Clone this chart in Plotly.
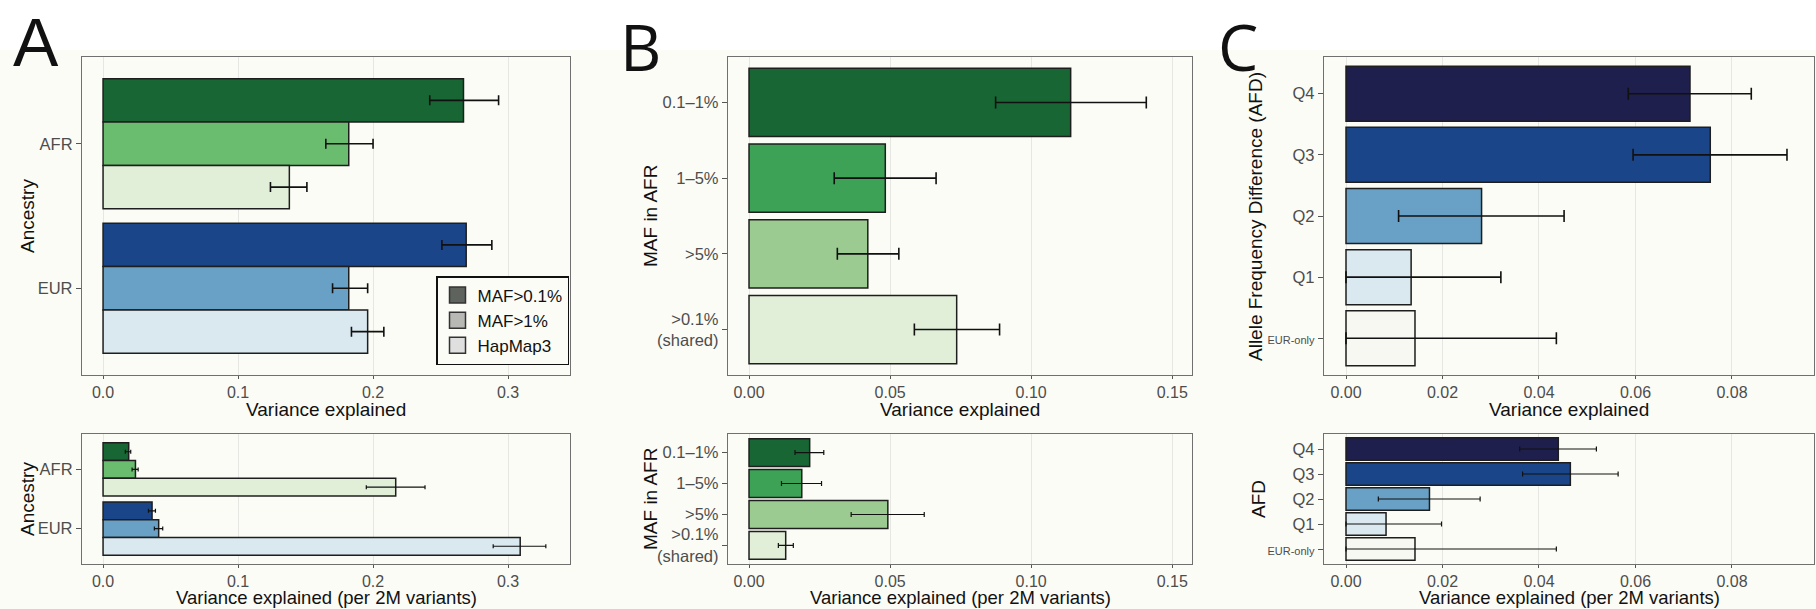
import plotly.graph_objects as go

W, H = 1816, 609

# ---------------- data ----------------
ANCESTRY = ["AFR", "EUR"]
SNP_SETS = ["MAF>0.1%", "MAF>1%", "HapMap3"]

# Panel A, top (variance explained)
A_TOP_MAF01 = [0.267, 0.269]
A_TOP_MAF01_LO = [0.242, 0.251]
A_TOP_MAF01_HI = [0.293, 0.288]
A_TOP_MAF1 = [0.182, 0.182]
A_TOP_MAF1_LO = [0.165, 0.170]
A_TOP_MAF1_HI = [0.200, 0.196]
A_TOP_HM3 = [0.138, 0.196]
A_TOP_HM3_LO = [0.124, 0.184]
A_TOP_HM3_HI = [0.151, 0.208]

# Panel A, bottom (per 2M variants)
A_BOT_MAF01 = [0.019, 0.0363]
A_BOT_MAF01_LO = [0.0165, 0.0336]
A_BOT_MAF01_HI = [0.0205, 0.0388]
A_BOT_MAF1 = [0.024, 0.0412]
A_BOT_MAF1_LO = [0.0215, 0.038]
A_BOT_MAF1_HI = [0.026, 0.0442]
A_BOT_HM3 = [0.2168, 0.309]
A_BOT_HM3_LO = [0.195, 0.289]
A_BOT_HM3_HI = [0.2385, 0.328]

# Panel B
MAF_BINS = ["0.1–1%", "1–5%", ">5%", ">0.1%<br>(shared)"]
B_TOP = [0.114, 0.0483, 0.0421, 0.0736]
B_TOP_LO = [0.0874, 0.0302, 0.0313, 0.0586]
B_TOP_HI = [0.1408, 0.0663, 0.0531, 0.0888]
B_BOT = [0.0215, 0.0187, 0.0492, 0.013]
B_BOT_LO = [0.0163, 0.0115, 0.0362, 0.0104]
B_BOT_HI = [0.0265, 0.0257, 0.0621, 0.0157]

# Panel C
AFD_BINS = ["Q4", "Q3", "Q2", "Q1", "EUR-only"]
AFD_TICKTEXT = ["Q4", "Q3", "Q2", "Q1", "<span style='font-size:11px'>EUR-only</span>"]
C_TOP = [0.0713, 0.0755, 0.0281, 0.0135, 0.0143]
C_TOP_LO = [0.0585, 0.0595, 0.0109, 0.0, 0.0]
C_TOP_HI = [0.0840, 0.0914, 0.0452, 0.0321, 0.0436]
C_BOT = [0.0440, 0.0465, 0.0173, 0.0083, 0.0143]
C_BOT_LO = [0.0360, 0.0366, 0.0067, 0.0, 0.0]
C_BOT_HI = [0.0519, 0.0564, 0.0278, 0.0198, 0.0436]

# ---------------- styles ----------------
CREAM = "#fcfcf6"
GREENS_A = ["#176634", "#6abd6e", "#e1eed8"]
BLUES_A = ["#1a4689", "#68a0c6", "#dae8f0"]
GREENS_B = ["#176634", "#3da156", "#9ccb91", "#e1eed8"]
BLUES_C = ["#1e1f4c", "#1a4689", "#68a0c6", "#dae8f0", "#f8f8f2"]
LEGEND_GRAYS = ["#5e635d", "#b8b9b4", "#dfdfdf"]
EDGE = "#1e1e1e"
FONT = "Liberation Sans, Arial, sans-serif"

fig = go.Figure()


def px_x(v):
    return v / W


def px_y(v):
    return 1 - v / H


def err(vals, lo, hi, cap, thick):
    return dict(type="data", symmetric=False,
                array=[h - v for v, h in zip(vals, hi)],
                arrayminus=[v - l for v, l in zip(vals, lo)],
                color="#111111", thickness=thick, width=cap)


def add_bar(vals, lo, hi, cats, colors, xa, ya, cap, thick, name=""):
    fig.add_trace(go.Bar(
        x=vals, y=cats, orientation="h", name=name, showlegend=False,
        marker=dict(color=colors, line=dict(color=EDGE, width=1.5)),
        error_x=err(vals, lo, hi, cap, thick),
        xaxis=xa, yaxis=ya))


# Panel A (grouped)
a_top = [(A_TOP_MAF01, A_TOP_MAF01_LO, A_TOP_MAF01_HI),
         (A_TOP_MAF1, A_TOP_MAF1_LO, A_TOP_MAF1_HI),
         (A_TOP_HM3, A_TOP_HM3_LO, A_TOP_HM3_HI)]
a_bot = [(A_BOT_MAF01, A_BOT_MAF01_LO, A_BOT_MAF01_HI),
         (A_BOT_MAF1, A_BOT_MAF1_LO, A_BOT_MAF1_HI),
         (A_BOT_HM3, A_BOT_HM3_LO, A_BOT_HM3_HI)]
for i, (v, l, h) in enumerate(a_top):
    add_bar(v, l, h, ANCESTRY, [GREENS_A[i], BLUES_A[i]], "x", "y", 5, 1.6, SNP_SETS[i])
for i, (v, l, h) in enumerate(a_bot):
    add_bar(v, l, h, ANCESTRY, [GREENS_A[i], BLUES_A[i]], "x2", "y2", 2, 1.2, SNP_SETS[i])

# legend entries (markers only)
for name, col in zip(SNP_SETS, LEGEND_GRAYS):
    fig.add_trace(go.Scatter(
        x=[None], y=[None], mode="markers", name=name, showlegend=True,
        marker=dict(symbol="square", size=16, color=col, line=dict(color="#333333", width=1.5)),
        xaxis="x", yaxis="y"))

# Panel B
add_bar(B_TOP, B_TOP_LO, B_TOP_HI, MAF_BINS, GREENS_B, "x3", "y3", 6, 1.6)
add_bar(B_BOT, B_BOT_LO, B_BOT_HI, MAF_BINS, GREENS_B, "x4", "y4", 2.5, 1.2)

# Panel C
add_bar(C_TOP, C_TOP_LO, C_TOP_HI, AFD_BINS, BLUES_C, "x5", "y5", 6, 1.6)
add_bar(C_BOT, C_BOT_LO, C_BOT_HI, AFD_BINS, BLUES_C, "x6", "y6", 2.5, 1.2)

# ---------------- axes ----------------
TOP_Y = (57, 375)
BOT_Y = (434, 564)
PANELS_X = [(82, 570), (728, 1192), (1324, 1814)]
XRANGES = [(-0.0156, 0.3459), (-0.00745, 0.157), (-0.00456, 0.097)]
XTICKS = [([0, 0.1, 0.2, 0.3], ["0.0", "0.1", "0.2", "0.3"]),
          ([0, 0.05, 0.10, 0.15], ["0.00", "0.05", "0.10", "0.15"]),
          ([0, 0.02, 0.04, 0.06, 0.08], ["0.00", "0.02", "0.04", "0.06", "0.08"])]
YCATS = [(ANCESTRY, ANCESTRY), (MAF_BINS, MAF_BINS), (AFD_BINS, AFD_TICKTEXT)]

layout_axes = {}
n = 0
for p in range(3):
    for (ytop, ybot) in (TOP_Y, BOT_Y):
        n += 1
        sx = "" if n == 1 else str(n)
        cats, ctext = YCATS[p]
        layout_axes["xaxis" + sx] = dict(
            domain=[px_x(PANELS_X[p][0]), px_x(PANELS_X[p][1])],
            anchor="y" + sx, range=list(XRANGES[p]),
            tickvals=XTICKS[p][0], ticktext=XTICKS[p][1],
            showgrid=True, gridcolor="#e6e6e2", gridwidth=1.2,
            zeroline=False, showline=True, mirror=True,
            linecolor="#707070", linewidth=1.3,
            ticks="outside", ticklen=3, tickcolor="#555555",
            tickfont=dict(family=FONT, size=16, color="#4d4d4d"))
        layout_axes["yaxis" + sx] = dict(
            domain=[px_y(ybot), px_y(ytop)],
            anchor="x" + sx, type="category",
            categoryorder="array", categoryarray=cats,
            tickvals=cats, ticktext=ctext,
            range=[len(cats) - 0.4, -0.6],
            showgrid=False, zeroline=False, showline=True, mirror=True,
            linecolor="#707070", linewidth=1.3,
            ticks="outside", ticklen=5, tickcolor="#555555",
            tickfont=dict(family=FONT, size=16.5, color="#4d4d4d"))

# ---------------- annotations ----------------
ann = []


def text(x, y, s, size=19, angle=0, xanchor="center", family=FONT):
    ann.append(dict(x=px_x(x), y=px_y(y), xref="paper", yref="paper", text=s,
                    showarrow=False, textangle=angle, xanchor=xanchor, yanchor="middle",
                    font=dict(family=family, size=size, color="#111111")))


for cx in (326, 960, 1569):
    text(cx, 409, "Variance explained")
    text(cx, 597, "Variance explained (per 2M variants)", size=18.5)

text(27, 216, "Ancestry", angle=-90)
text(27, 499, "Ancestry", angle=-90)
text(650, 216, "MAF in AFR", angle=-90)
text(650, 499, "MAF in AFR", angle=-90)
text(1255, 217, "Allele Frequency Difference (AFD)", angle=-90)
text(1258, 499, "AFD", angle=-90)

text(11, 42, "A", size=68, xanchor="left", family="Liberation Sans, Arial")
text(618, 46, "B", size=64, xanchor="left", family="Open Sans")
text(1216, 46, "C", size=64, xanchor="left", family="Open Sans")

fig.update_layout(
    width=W, height=H, margin=dict(l=0, r=0, t=0, b=0),
    paper_bgcolor="white", plot_bgcolor=CREAM,
    barmode="group", bargap=0.1, bargroupgap=0,
    showlegend=True,
    legend=dict(x=px_x(436), y=px_y(276), xanchor="left", yanchor="top",
                bgcolor=CREAM, bordercolor="#111111", borderwidth=1.5,
                font=dict(family=FONT, size=17, color="#111111"),
                tracegroupgap=4, itemwidth=30),
    annotations=ann,
    shapes=[dict(type="rect", xref="paper", yref="paper", x0=0, x1=1,
                 y0=0, y1=px_y(50), fillcolor=CREAM, line=dict(width=0), layer="below")],
    **layout_axes,
)

fig.write_html("out.html")
